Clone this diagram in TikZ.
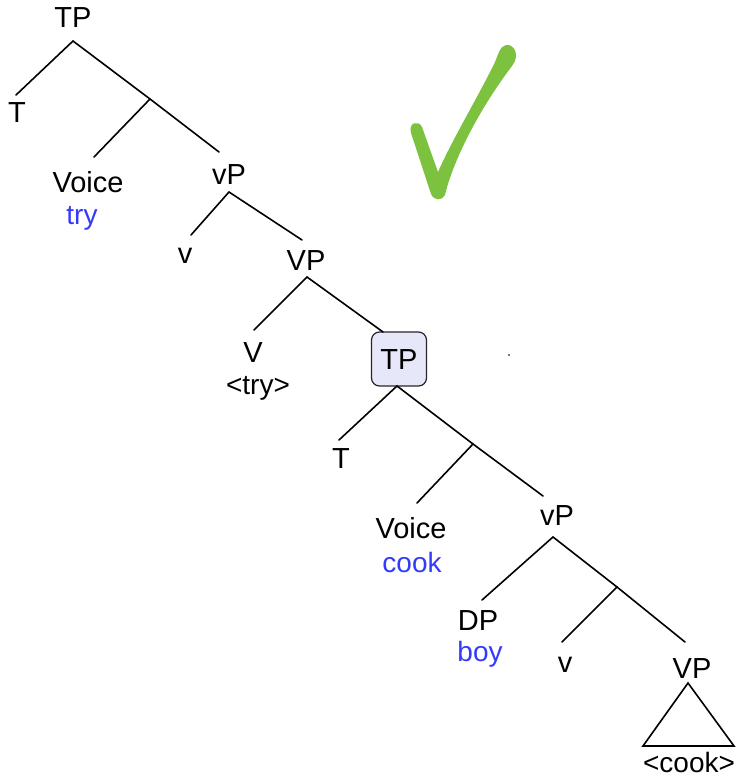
\documentclass[tikz,border=0pt]{standalone}
\usepackage{fontspec}
\setmainfont{Liberation Sans}
\definecolor{tryblue}{RGB}{52,58,250}
\definecolor{boxfill}{RGB}{230,232,250}
\definecolor{checkgreen}{RGB}{125,194,62}
\begin{document}
\begin{tikzpicture}[x=1pt,y=-1pt,
  lab/.style={anchor=base, inner sep=0pt, outer sep=0pt, text height=21pt, text depth=6pt, font=\fontsize{29}{32}\selectfont},
  sub/.style={lab, font=\fontsize{28}{32}\selectfont},
  blue/.style={sub, text=tryblue},
  br/.style={line width=1.6pt, black, line cap=round}
]
\useasboundingbox (0,0) rectangle (736,778);

% labels
\node[lab] (TPa) at (73,28) {TP};
\node[lab] (Ta) at (17,123) {T};
\node[lab] (Voicea) at (88,193) {Voice};
\node[blue] (trya) at (82,224) {try};
\node[lab] (vPa) at (229,185) {vP};
\node[lab] (va) at (185,263) {v};
\node[lab] (VPa) at (306,270) {VP};
\node[lab] (Va) at (253,362) {V};
\node[sub] (tryb) at (258,394) {<try>};
\node[lab, anchor=center, draw=black!85, fill=boxfill, rounded corners=8pt, minimum width=55pt, minimum height=54pt, text depth=0pt, line width=1.2pt] (TPb) at (399,359) {TP};
\node[lab] (Tb) at (341,468) {T};
\node[lab] (Voiceb) at (411,538) {Voice};
\node[blue] (cooka) at (412,572) {cook};
\node[lab] (vPb) at (557,525) {vP};
\node[lab] (DP) at (478,630) {DP};
\node[blue] (boy) at (480,661) {boy};
\node[lab] (vb) at (565,672) {v};
\node[lab] (VPb) at (692,678) {VP};
\node[sub, text depth=0pt] (cookb) at (689,772) {<cook>};

% branching points
\coordinate (b1) at (150,99);
\coordinate (b2) at (473,444);
\coordinate (b3) at (617,587);

% branches
\draw[br] ([shift={(0,7)}]TPa.south) -- ([shift={(-1,-7)}]Ta.north);
\draw[br] ([shift={(0,7)}]TPa.south) -- (b1) -- ([shift={(-10,-12)}]vPa.north);
\draw[br] (b1) -- ([shift={(6,-15)}]Voicea.north);
\draw[br] ([shift={(0,1)}]vPa.south) -- ([shift={(6,-7)}]va.north);
\draw[br] ([shift={(0,1)}]vPa.south) -- ([shift={(-4,-9)}]VPa.north);
\draw[br] ([shift={(1,1)}]VPa.south) -- ([shift={(1,-11)}]Va.north);
\draw[br] ([shift={(1,1)}]VPa.south) -- ([shift={(-16,0)}]TPb.north);
\draw[br] ([shift={(-2,0)}]TPb.south) -- ([shift={(-2,-7)}]Tb.north);
\draw[br] ([shift={(-2,0)}]TPb.south) -- (b2) -- ([shift={(-14,-8)}]vPb.north);
\draw[br] (b2) -- ([shift={(6,-14)}]Voiceb.north);
\draw[br] ([shift={(-4,6)}]vPb.south) -- ([shift={(4,-9)}]DP.north);
\draw[br] ([shift={(-4,6)}]vPb.south) -- (b3) -- ([shift={(-7,-15)}]VPb.north);
\draw[br] (b3) -- ([shift={(-3,-9)}]vb.north);

% triangle
\draw[br, line join=miter] ([shift={(-4,-1)}]VPb.south) -- ++(-45,63) -- ++(91,0) -- cycle;

% stray dot
\fill[black!70] (509,355) circle (1.2);

% check mark
\fill[checkgreen] (411,133) -- (431,194)
  .. controls (434,201) and (442,201) .. (445,195)
  .. controls (452,165) and (475,115) .. (512,66)
  .. controls (520,56) and (515,44) .. (506,45)
  .. controls (500,46) and (498,55) .. (495,62)
  .. controls (478,97) and (452,140) .. (438,172)
  -- (422,127)
  .. controls (419,120) and (408,122) .. (411,133) -- cycle;
\end{tikzpicture}
\end{document}
